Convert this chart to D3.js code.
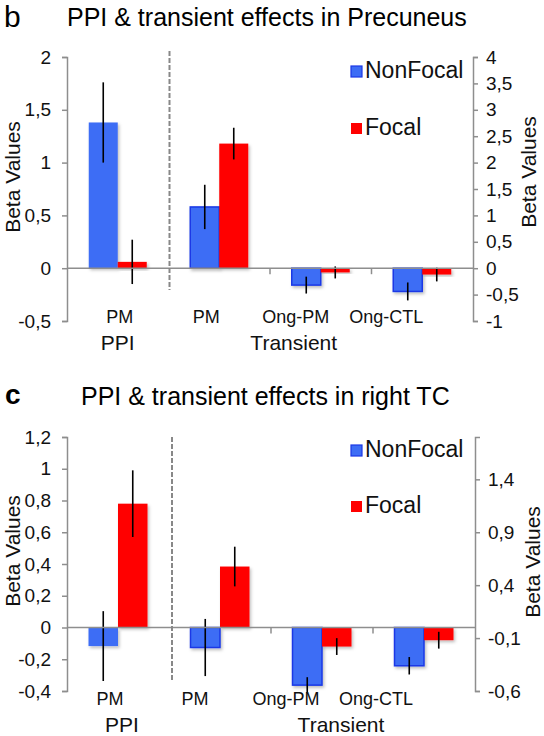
<!DOCTYPE html>
<html>
<head>
<meta charset="utf-8">
<script src="https://cdn.jsdelivr.net/npm/d3@7"></script>
<style>
  html, body { margin: 0; padding: 0; background: #fff; }
  svg { display: block; font-family: "Liberation Sans", Arial, Helvetica, sans-serif; }
</style>
</head>
<body>
<svg id="chart" width="544" height="736"></svg>
<script>
// ---------------- DATA ----------------
const categories = ["PM", "PM", "Ong-PM", "Ong-CTL"];
const groups = ["PPI", "Transient"];
const groupOfCategory = ["PPI", "Transient", "Transient", "Transient"];
const seriesNames = ["NonFocal", "Focal"];

// Panel b: Precuneus
const precTitle = "PPI & transient effects in Precuneus";
const precNonFocal = [1.38, 0.58, -0.16, -0.22];
const precNonFocalErr = [0.38, 0.21, 0.08, 0.085];
const precFocal = [0.06, 1.18, -0.04, -0.06];
const precFocalErr = [0.21, 0.15, 0.057, 0.065];
const precLeftTicks = [-0.5, 0, 0.5, 1, 1.5, 2];
const precLeftTickLabels = ["-0,5", "0", "0,5", "1", "1,5", "2"];
const precRightTicks = [-1, -0.5, 0, 0.5, 1, 1.5, 2, 2.5, 3, 3.5, 4];
const precRightTickLabels = ["-1", "-0,5", "0", "0,5", "1", "1,5", "2", "2,5", "3", "3,5", "4"];

// Panel c: right TC
const tcTitle = "PPI & transient effects in right TC";
const tcNonFocal = [-0.117, -0.126, -0.363, -0.241];
const tcNonFocalErr = [0.22, 0.18, 0.05, 0.055];
const tcFocal = [0.78, 0.384, -0.12, -0.08];
const tcFocalErr = [0.21, 0.125, 0.053, 0.053];
const tcLeftTicks = [-0.4, -0.2, 0, 0.2, 0.4, 0.6, 0.8, 1, 1.2];
const tcLeftTickLabels = ["-0,4", "-0,2", "0", "0,2", "0,4", "0,6", "0,8", "1", "1,2"];
const tcRightTicks = [-0.6, -0.1, 0.4, 0.9, 1.4];
const tcRightTickLabels = ["-0,6", "-0,1", "0,4", "0,9", "1,4"];

const yLabel = "Beta Values";

// ---------------- STYLE ----------------
const BLUE = "#3d6df5";
const BLUE_STROKE = "#1b38e6";
const RED = "#ff0000";
const AXIS = "#8e8e8e";

const svg = d3.select("#chart");
const defs = svg.append("defs");
const sh = defs.append("filter").attr("id", "shadow")
  .attr("x", "-20%").attr("y", "-20%").attr("width", "150%").attr("height", "150%");
sh.append("feDropShadow").attr("dx", 1.5).attr("dy", 2).attr("stdDeviation", 1.5)
  .attr("flood-color", "#000").attr("flood-opacity", 0.25);

function drawPanel(p) {
  const g = svg.append("g");
  const idx = d3.range(categories.length);
  const x = d3.scaleBand().domain(idx).range([p.left, p.right]).padding(0);
  const bw = x.bandwidth();
  const x1 = d3.scaleBand().domain(seriesNames).range([bw / 2 - p.groupW / 2, bw / 2 + p.groupW / 2]).padding(0);
  const y = d3.scaleLinear().domain(p.leftDomain).range([p.bottom, p.top]);
  const yR = d3.scaleLinear().domain(p.rightDomain).range([p.bottom, p.top]);

  // letter + title
  g.append("text").attr("x", p.letterX).attr("y", p.letterY)
    .attr("font-size", p.letterSize).attr("font-weight", p.letterWeight).attr("fill", "#000").text(p.letter);
  g.append("text").attr("x", p.titleX).attr("y", p.titleY)
    .attr("font-size", 25).attr("fill", "#000").text(p.title);

  // left axis
  const la = g.append("g").attr("transform", `translate(${p.left},0)`)
    .call(d3.axisLeft(y).tickValues(p.leftTicks).tickSize(5).tickPadding(11)
      .tickFormat((d, i) => p.leftTickLabels[i]));
  la.select(".domain").attr("stroke", AXIS).attr("stroke-width", 1.5);
  la.selectAll(".tick line").attr("stroke", AXIS).attr("stroke-width", 1.5);
  la.selectAll(".tick text").attr("font-size", 19).attr("fill", "#111")
    .attr("font-family", "Liberation Sans, Arial, sans-serif");

  // right axis
  const ra = g.append("g").attr("transform", `translate(${p.right},0)`)
    .call(d3.axisRight(yR).tickValues(p.rightTicks).tickSize(5).tickPadding(8)
      .tickFormat((d, i) => p.rightTickLabels[i]));
  ra.select(".domain").attr("stroke", AXIS).attr("stroke-width", 1.5);
  ra.selectAll(".tick line").attr("stroke", AXIS).attr("stroke-width", 1.5);
  ra.selectAll(".tick text").attr("font-size", 19).attr("fill", "#111")
    .attr("font-family", "Liberation Sans, Arial, sans-serif");

  // axis titles
  g.append("text").attr("transform", `translate(${p.yLabelLX},${p.yLabelLY}) rotate(-90)`)
    .attr("text-anchor", "middle").attr("font-size", 21).attr("fill", "#111").text(yLabel);
  g.append("text").attr("transform", `translate(${p.yLabelRX},${p.yLabelRY}) rotate(-90)`)
    .attr("text-anchor", "middle").attr("font-size", 21).attr("fill", "#111").text(yLabel);

  // bars
  const rows = idx.map(i => ({
    i,
    vals: [
      { s: "NonFocal", v: p.nf[i], e: p.nfErr[i] },
      { s: "Focal", v: p.f[i], e: p.fErr[i] }
    ]
  }));
  const bg = g.selectAll(".grp").data(rows).join("g")
    .attr("transform", d => `translate(${x(d.i)},0)`);
  bg.selectAll("rect").data(d => d.vals.map(v => ({ ...v, i: d.i }))).join("rect")
    .attr("x", d => x1(d.s))
    .attr("width", x1.bandwidth())
    .attr("y", d => y(Math.max(0, d.v)))
    .attr("height", d => Math.abs(y(d.v) - y(0)))
    .attr("fill", d => d.s === "NonFocal" ? BLUE : RED)
    .attr("stroke", d => (d.s === "NonFocal" && groupOfCategory[d.i] === "Transient") ? BLUE_STROKE : "none")
    .attr("stroke-width", 1.5)
    .attr("filter", "url(#shadow)");

  // zero line
  g.append("line").attr("x1", p.left).attr("x2", p.right)
    .attr("y1", y(0)).attr("y2", y(0)).attr("stroke", AXIS).attr("stroke-width", 1.5);
  // category boundary ticks (within Transient group)
  [2, 3].forEach(i => {
    g.append("line").attr("x1", x(i)).attr("x2", x(i))
      .attr("y1", y(0)).attr("y2", y(0) + 6).attr("stroke", AXIS).attr("stroke-width", 1.5);
  });

  // error bars
  bg.selectAll("line.err").data(d => d.vals).join("line").attr("class", "err")
    .attr("x1", d => x1(d.s) + x1.bandwidth() / 2)
    .attr("x2", d => x1(d.s) + x1.bandwidth() / 2)
    .attr("y1", d => y(d.v + d.e))
    .attr("y2", d => y(d.v - d.e))
    .attr("stroke", "#000").attr("stroke-width", 1.6);

  // dashed separator between PPI and Transient
  g.append("line").attr("x1", x(1) + p.sepDx).attr("x2", x(1) + p.sepDx)
    .attr("y1", p.sepTop).attr("y2", p.sepBottom)
    .attr("stroke", "#888").attr("stroke-width", 2).attr("stroke-dasharray", "5,2");

  // category labels
  idx.forEach(i => {
    g.append("text").attr("x", x(i) + bw / 2 + p.catDx[i]).attr("y", p.catY)
      .attr("text-anchor", "middle").attr("font-size", 18).attr("fill", "#111").text(categories[i]);
  });
  // group labels
  groups.forEach((gr, k) => {
    const members = idx.filter(i => groupOfCategory[i] === gr);
    const cx = d3.mean(members, i => x(i) + bw / 2);
    g.append("text").attr("x", cx + p.groupDx[k]).attr("y", p.groupY)
      .attr("text-anchor", "middle").attr("font-size", 21).attr("fill", "#111").text(gr);
  });

  // legend
  seriesNames.forEach((s, k) => {
    g.append("rect").attr("x", p.legX).attr("y", p.legY[k] - 12).attr("width", 11).attr("height", 11)
      .attr("fill", s === "NonFocal" ? BLUE : RED)
      .attr("stroke", s === "NonFocal" ? BLUE_STROKE : "none").attr("stroke-width", 1.2);
    g.append("text").attr("x", p.legX + 14).attr("y", p.legY[k])
      .attr("font-size", 23).attr("fill", "#111").text(s);
  });
}

drawPanel({
  letter: "b", letterX: 4, letterY: 27, letterSize: 30, letterWeight: "normal",
  title: precTitle, titleX: 67, titleY: 26,
  left: 67, right: 473, top: 57, bottom: 321, groupW: 58,
  leftDomain: [-0.5, 2], rightDomain: [-1, 4],
  leftTicks: precLeftTicks, leftTickLabels: precLeftTickLabels,
  rightTicks: precRightTicks, rightTickLabels: precRightTickLabels,
  nf: precNonFocal, nfErr: precNonFocalErr, f: precFocal, fErr: precFocalErr,
  sepDx: 1, sepTop: 51, sepBottom: 290,
  catDx: [2, -13, -25, -36], catY: 323,
  groupDx: [0, -27], groupY: 350,
  legX: 351, legY: [78, 135],
  yLabelLX: 20, yLabelLY: 177, yLabelRX: 536, yLabelRY: 172
});

drawPanel({
  letter: "c", letterX: 5, letterY: 404, letterSize: 28, letterWeight: "bold",
  title: tcTitle, titleX: 81, titleY: 405,
  left: 67, right: 475, top: 437, bottom: 691, groupW: 59,
  leftDomain: [-0.4, 1.2], rightDomain: [-0.6, 1.8],
  leftTicks: tcLeftTicks, leftTickLabels: tcLeftTickLabels,
  rightTicks: tcRightTicks, rightTickLabels: tcRightTickLabels,
  nf: tcNonFocal, nfErr: tcNonFocalErr, f: tcFocal, fErr: tcFocalErr,
  sepDx: 3, sepTop: 437, sepBottom: 680,
  catDx: [-8, -25, -36, -48], catY: 705,
  groupDx: [4, 19], groupY: 732,
  legX: 351, legY: [457, 513],
  yLabelLX: 20, yLabelLY: 551, yLabelRX: 540, yLabelRY: 562
});
</script>
</body>
</html>
